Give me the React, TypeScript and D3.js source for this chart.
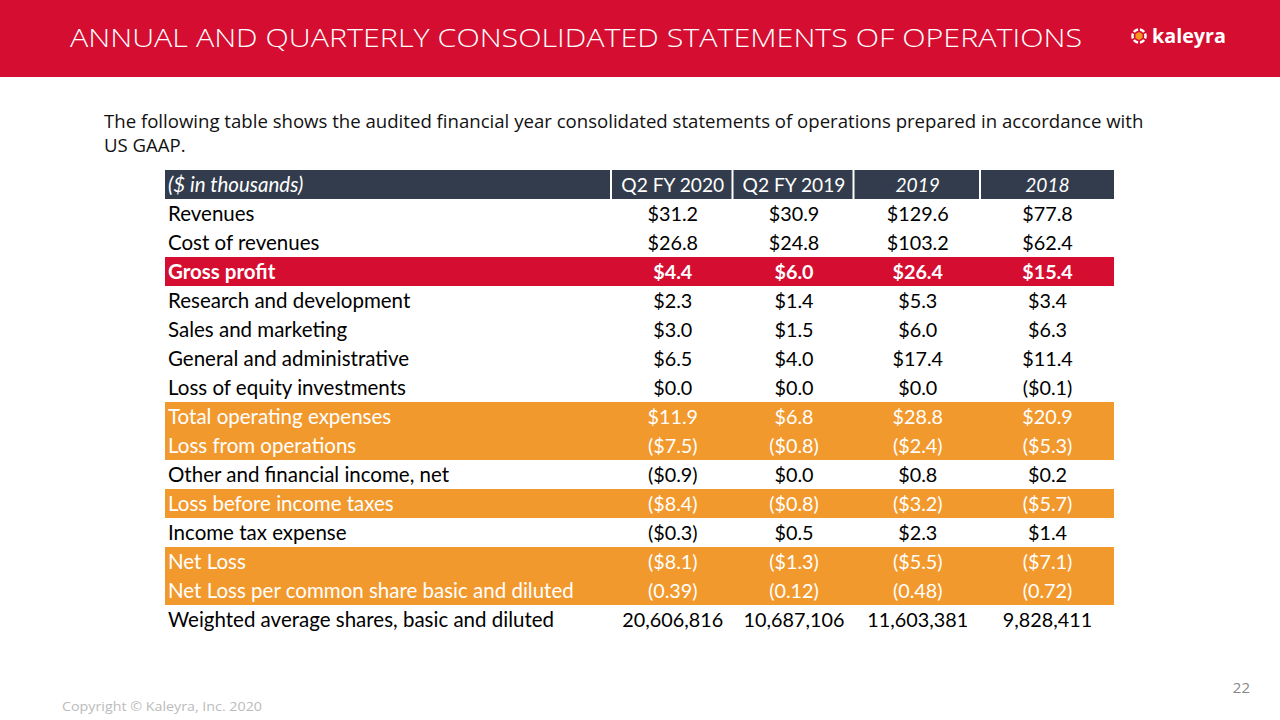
import React from "react";
import * as d3 from "d3";

const title = "ANNUAL AND QUARTERLY CONSOLIDATED STATEMENTS OF OPERATIONS";
const introLines = [
  "The following table shows the audited financial year consolidated statements of operations prepared in accordance with",
  "US GAAP.",
];
const headerLabel = "($ in thousands)";
const columns = ["Q2 FY 2020", "Q2 FY 2019", "2019", "2018"];
const columnItalic = [false, false, true, true];

const rowLabels = [
  "Revenues",
  "Cost of revenues",
  "Gross profit",
  "Research and development",
  "Sales and marketing",
  "General and administrative",
  "Loss of equity investments",
  "Total operating expenses",
  "Loss from operations",
  "Other and financial income, net",
  "Loss before income taxes",
  "Income tax expense",
  "Net Loss",
  "Net Loss per common share basic and diluted",
  "Weighted average shares, basic and diluted",
];
// row highlight kind: "" plain, "red" gross profit, "orange" highlighted subtotal
const rowKinds = ["", "", "red", "", "", "", "", "orange", "orange", "", "orange", "", "orange", "orange", ""];

const q2fy2020 = ["$31.2", "$26.8", "$4.4", "$2.3", "$3.0", "$6.5", "$0.0", "$11.9", "($7.5)", "($0.9)", "($8.4)", "($0.3)", "($8.1)", "(0.39)", "20,606,816"];
const q2fy2019 = ["$30.9", "$24.8", "$6.0", "$1.4", "$1.5", "$4.0", "$0.0", "$6.8", "($0.8)", "$0.0", "($0.8)", "$0.5", "($1.3)", "(0.12)", "10,687,106"];
const fy2019 = ["$129.6", "$103.2", "$26.4", "$5.3", "$6.0", "$17.4", "$0.0", "$28.8", "($2.4)", "$0.8", "($3.2)", "$2.3", "($5.5)", "(0.48)", "11,603,381"];
const fy2018 = ["$77.8", "$62.4", "$15.4", "$3.4", "$6.3", "$11.4", "($0.1)", "$20.9", "($5.3)", "$0.2", "($5.7)", "$1.4", "($7.1)", "(0.72)", "9,828,411"];
const seriesValues = [q2fy2020, q2fy2019, fy2019, fy2018];

const RED = "#d50d30";
const ORANGE = "#f2992e";
const DARK = "#323c4c";

const W = 1280;
const H = 720;

export default function App() {
  const tableLeft = 165;
  const tableRight = 1114;
  const headerTop = 170;
  const headerBottom = 199;
  const colEdges = [612, 733.5, 854.5, 981, tableRight];
  const labelRight = 610;

  const y = d3
    .scaleBand<number>()
    .domain(d3.range(rowLabels.length))
    .range([headerBottom, headerBottom + 29 * rowLabels.length])
    .paddingInner(0);

  const tableFont = "Lato, 'Open Sans', sans-serif";
  const fs = 20.5;
  const fsNum = 19.8;
  const dy = 7;

  return (
    <svg
      width={W}
      height={H}
      viewBox={`0 0 ${W} ${H}`}
      style={{ position: "absolute", left: 0, top: 0, background: "#fff" }}
    >
      <rect x={0} y={0} width={W} height={H} fill="#fff" />
      {/* banner */}
      <rect x={0} y={0} width={W} height={77} fill={RED} />
      <text
        x={70}
        y={47}
        fill="#fff"
        fontFamily="'Open Sans', sans-serif"
        fontWeight={300}
        fontSize={25}
        textLength={1012}
        lengthAdjust="spacingAndGlyphs"
      >
        {title}
      </text>
      {/* logo */}
      <g transform="translate(1139,36)">
        {d3.range(6).map((i) => {
          const a = (i * Math.PI) / 3 + Math.PI / 6;
          const r = 7.5;
          return (
            <path
              key={i}
              d={d3.arc()({
                innerRadius: r - 2.2,
                outerRadius: r + 0.3,
                startAngle: a - 0.38,
                endAngle: a + 0.38,
              }) || ""}
              fill="#fff"
            />
          );
        })}
        <polygon
          points={d3
            .range(6)
            .map((i) => {
              const a = (i * Math.PI) / 3 + Math.PI / 6;
              return `${4 * Math.cos(a)},${4 * Math.sin(a)}`;
            })
            .join(" ")}
          fill="#f7941d"
        />
      </g>
      <text
        x={1152}
        y={43}
        fill="#fff"
        fontFamily="'Open Sans', sans-serif"
        fontWeight={700}
        fontSize={20}
        textLength={74}
        lengthAdjust="spacingAndGlyphs"
      >
        kaleyra
      </text>

      {/* intro */}
      {introLines.map((t, i) => (
        <text
          key={i}
          x={104}
          y={128 + i * 24}
          fill="#111"
          fontFamily="'Open Sans', sans-serif"
          fontSize={18.6}
        >
          {t}
        </text>
      ))}

      {/* header */}
      <rect x={tableLeft} y={headerTop} width={labelRight - tableLeft} height={headerBottom - headerTop} fill={DARK} />
      {columns.map((c, i) => (
        <rect
          key={c}
          x={colEdges[i]}
          y={headerTop}
          width={colEdges[i + 1] - colEdges[i] - (i < columns.length - 1 ? 2 : 0)}
          height={headerBottom - headerTop}
          fill={DARK}
        />
      ))}
      <text
        x={168}
        y={(headerTop + headerBottom) / 2 + dy}
        fill="#fff"
        fontFamily={tableFont}
        fontSize={fs}
        fontStyle="italic"
      >
        {headerLabel}
      </text>
      {columns.map((c, i) => (
        <text
          key={c}
          x={(colEdges[i] + colEdges[i + 1]) / 2}
          y={(headerTop + headerBottom) / 2 + dy}
          textAnchor="middle"
          fill="#fff"
          fontFamily={tableFont}
          fontSize={19.2}
          fontStyle={columnItalic[i] ? "italic" : "normal"}
        >
          {c}
        </text>
      ))}

      {/* rows */}
      {rowLabels.map((label, r) => {
        const kind = rowKinds[r];
        const top = y(r) as number;
        const h = y.bandwidth();
        const fill = kind === "red" ? RED : kind === "orange" ? ORANGE : "none";
        const color = kind ? "#fff" : "#000";
        const weight = kind === "red" ? 700 : 400;
        const baseline = top + h / 2 + dy;
        return (
          <g key={label}>
            {kind && <rect x={tableLeft} y={top} width={tableRight - tableLeft} height={h} fill={fill} />}
            <text
              x={168}
              y={baseline}
              fill={color}
              fontFamily={tableFont}
              fontSize={fs}
              fontWeight={weight}
            >
              {label}
            </text>
            {seriesValues.map((vals, c) => (
              <text
                key={c}
                x={(colEdges[c] + colEdges[c + 1]) / 2}
                y={baseline}
                textAnchor="middle"
                fill={color}
                fontFamily={tableFont}
                fontSize={fsNum}
                fontWeight={weight}
              >
                {vals[r]}
              </text>
            ))}
          </g>
        );
      })}

      {/* footer */}
      <text x={1250} y={693} textAnchor="end" fill="#888" fontFamily="'Open Sans', sans-serif" fontSize={15}>
        22
      </text>
      <text
        x={62}
        y={711}
        fill="#bbb"
        fontFamily="'Open Sans', sans-serif"
        fontSize={13.5}
        textLength={200}
        lengthAdjust="spacingAndGlyphs"
      >
        Copyright © Kaleyra, Inc. 2020
      </text>
    </svg>
  );
}
